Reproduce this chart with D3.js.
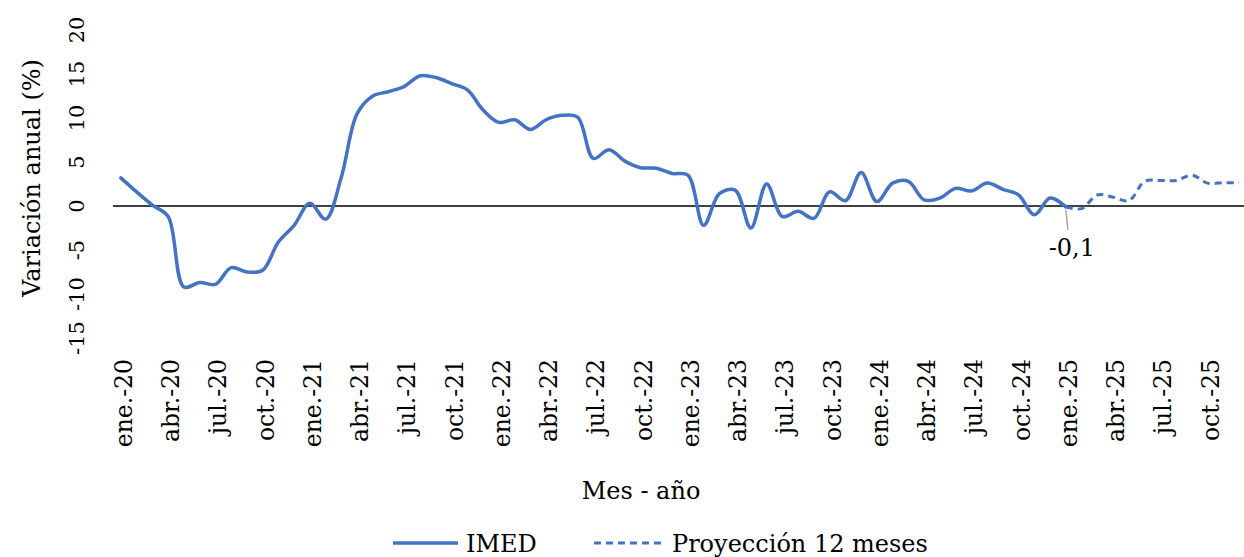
<!DOCTYPE html>
<html>
<head>
<meta charset="utf-8">
<script src="https://cdn.jsdelivr.net/npm/d3@7"></script>
<style>
  body { margin: 0; background: #fff; }
  svg text { font-family: "DejaVu Serif", "Liberation Serif", serif; fill: #000; }
</style>
</head>
<body>
<div id="chart"></div>
<script>
const monthNames = ["ene.", "feb.", "mar.", "abr.", "may.", "jun.", "jul.", "ago.", "sept.", "oct.", "nov.", "dic."];
const years = ["20", "21", "22", "23", "24", "25"];
const months = years.flatMap(y => monthNames.map(m => m + "-" + y));

// IMED, variación anual (%), ene.-20 .. ene.-25
const imed = [3.2, 1.6, 0.1, -1.2, -9.2, -8.7, -8.9, -7.0, -7.5, -7.3, -4.1, -2.2,
  0.3, -1.5, 3.3, 10.5, 12.5, 13.0, 13.6, 14.8, 14.6, 13.9, 13.2, 10.9,
  9.5, 9.8, 8.7, 9.8, 10.3, 10.1, 5.4, 6.4, 5.1, 4.35, 4.3, 3.7,
  3.5, -2.2, 1.4, 1.8, -2.5, 2.5, -1.2, -0.6, -1.4, 1.6, 0.6, 3.8,
  0.5, 2.6, 2.8, 0.7, 0.9, 2.0, 1.7, 2.6, 1.9, 1.25, -1.0, 0.9,
  -0.1];
// Proyección 12 meses, ene.-25 .. dic.-25
const proyeccion = [-0.1, -0.3, 1.25, 1.0, 0.6, 2.8, 2.9, 2.9, 3.5, 2.6, 2.65, 2.65];
const yTicks = [-15, -10, -5, 0, 5, 10, 15, 20];

const width = 1244, height = 557;
const blue = "#4472C4";

const svg = d3.select("#chart").append("svg")
  .attr("width", width)
  .attr("height", height);

const x = d3.scaleBand().domain(months).range([113, 1247]).padding(0);
const cx = m => x(m) + x.bandwidth() / 2;
const y = d3.scaleLinear().domain([-15, 20]).range([338, 30]);

// y tick labels (rotated)
svg.append("g").selectAll("text")
  .data(yTicks)
  .enter().append("text")
  .attr("transform", d => `translate(84,${y(d)}) rotate(-90)`)
  .attr("text-anchor", "middle")
  .attr("font-size", 21)
  .text(d => d);

// y axis title
svg.append("text")
  .attr("transform", "translate(40,178) rotate(-90)")
  .attr("text-anchor", "middle")
  .attr("font-size", 24)
  .text("Variación anual (%)");

// zero line
svg.append("line")
  .attr("x1", 113).attr("x2", width)
  .attr("y1", y(0)).attr("y2", y(0))
  .attr("stroke", "#000").attr("stroke-width", 1.5);

// x tick labels every 3 months
svg.append("g").selectAll("text")
  .data(months.filter((d, i) => i % 3 === 0))
  .enter().append("text")
  .attr("transform", d => `translate(${cx(d) + 11},359) rotate(-90)`)
  .attr("text-anchor", "end")
  .attr("font-size", 23.5)
  .text(d => d);

// x axis title
svg.append("text")
  .attr("x", 641).attr("y", 499)
  .attr("text-anchor", "middle")
  .attr("font-size", 24)
  .text("Mes - año");

const line = d3.line()
  .x(d => cx(d.m))
  .y(d => y(d.v))
  .curve(d3.curveCatmullRom.alpha(0.5));

const imedPts = imed.map((v, i) => ({ m: months[i], v }));
const proyPts = proyeccion.map((v, i) => ({ m: months[60 + i], v }));

svg.append("path")
  .datum(proyPts)
  .attr("d", line)
  .attr("fill", "none")
  .attr("stroke", blue)
  .attr("stroke-width", 3)
  .attr("stroke-dasharray", "7,5");

svg.append("path")
  .datum(imedPts)
  .attr("d", line)
  .attr("fill", "none")
  .attr("stroke", blue)
  .attr("stroke-width", 3.5)
  .attr("stroke-linecap", "round");

// data label for last IMED value
const last = imedPts[imedPts.length - 1];
svg.append("line")
  .attr("x1", cx(last.m)).attr("y1", y(last.v) + 3)
  .attr("x2", cx(last.m) + 2).attr("y2", y(last.v) + 23)
  .attr("stroke", "#a6a6a6").attr("stroke-width", 1.5);
svg.append("text")
  .attr("x", cx(last.m) + 6).attr("y", y(last.v) + 49)
  .attr("text-anchor", "middle")
  .attr("font-size", 24)
  .text(String(last.v).replace(".", ","));

// legend
const lg = svg.append("g");
lg.append("line").attr("x1", 393).attr("x2", 458).attr("y1", 543).attr("y2", 543)
  .attr("stroke", blue).attr("stroke-width", 3.5);
lg.append("text").attr("x", 466).attr("y", 552).attr("font-size", 24).text("IMED");
lg.append("line").attr("x1", 594).attr("x2", 662).attr("y1", 543).attr("y2", 543)
  .attr("stroke", blue).attr("stroke-width", 3).attr("stroke-dasharray", "7,5");
lg.append("text").attr("x", 672).attr("y", 552).attr("font-size", 24).text("Proyección 12 meses");
</script>
</body>
</html>
